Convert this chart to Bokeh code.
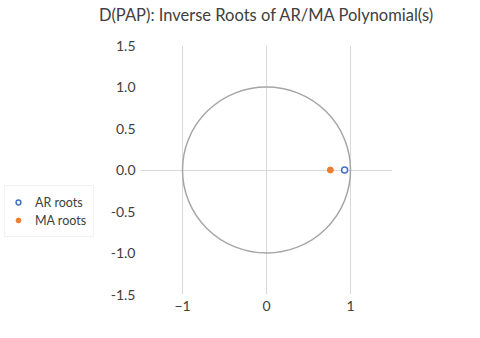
from bokeh.plotting import figure
from bokeh.layouts import row, column
from bokeh.models import FixedTicker, Legend, LegendItem, Range1d, CustomJSTickFormatter, Div
from bokeh.embed import file_html
from bokeh.resources import INLINE

title_text = "D(PAP): Inverse Roots of AR/MA Polynomial(s)"
ar_re = [0.93]
ar_im = [0.0]
ma_re = [0.76]
ma_im = [0.0]
series_names = ["AR roots", "MA roots"]
x_ticks = [-1, 0, 1]
y_ticks = [-1.5, -1.0, -0.5, 0.0, 0.5, 1.0, 1.5]

FONT = "Lato"
TXT = "#404040"
AR_COLOR = "#4472C4"
MA_COLOR = "#ED7D31"

title_div = Div(text=title_text, width=344, height=30,
                styles={"text-align": "center", "font-family": FONT, "font-size": "16.5px",
                        "color": TXT, "line-height": "30px", "margin": "0", "padding": "0",
                        "white-space": "nowrap"})

p = figure(frame_width=252, frame_height=249, output_backend="svg", toolbar_location=None,
           x_range=Range1d(-1.5, 1.5), y_range=Range1d(-1.5, 1.5),
           min_border_left=46, min_border_right=78, min_border_top=15, min_border_bottom=36,
           title=None)
p.outline_line_color = None

p.xaxis.ticker = FixedTicker(ticks=x_ticks)
p.yaxis.ticker = FixedTicker(ticks=y_ticks)
p.yaxis.formatter = CustomJSTickFormatter(code="return tick.toFixed(1);")
for ax in (p.xaxis, p.yaxis):
    ax.axis_line_color = None
    ax.major_tick_line_color = None
    ax.minor_tick_line_color = None
    ax.major_tick_out = 0
    ax.major_tick_in = 0
    ax.minor_tick_out = 0
    ax.minor_tick_in = 0
    ax.major_label_text_font = FONT
    ax.major_label_text_font_size = "14px"
    ax.major_label_text_color = TXT
p.xaxis.major_label_standoff = 6
p.yaxis.major_label_standoff = 5

p.xgrid.ticker = FixedTicker(ticks=x_ticks)
p.ygrid.ticker = FixedTicker(ticks=[0])
p.xgrid.grid_line_color = "#D9D9D9"
p.ygrid.grid_line_color = "#D9D9D9"

p.ellipse(x=0, y=0, width=2, height=2, fill_color=None, line_color="#A6A6A6", line_width=1.5)

p.scatter(ar_re, ar_im, marker="circle", size=6, fill_color="white",
          line_color=AR_COLOR, line_width=1.5)
p.scatter(ma_re, ma_im, marker="circle", size=6, fill_color=MA_COLOR,
          line_color=MA_COLOR, line_width=1)

# legend panel on the left (its own renderers sit outside its view, only the legend shows)
lf = figure(width=94, height=330, output_backend="svg", toolbar_location=None,
            x_range=Range1d(10, 11), y_range=Range1d(10, 11),
            min_border_left=0, min_border_right=0, min_border_top=0, min_border_bottom=0)
lf.axis.visible = False
lf.grid.visible = False
lf.outline_line_color = None
l_ar = lf.scatter(ar_re, ar_im, marker="circle", size=6, fill_color="white",
                  line_color=AR_COLOR, line_width=1.5)
l_ma = lf.scatter(ma_re, ma_im, marker="circle", size=6, fill_color=MA_COLOR,
                  line_color=MA_COLOR, line_width=1)
legend = Legend(items=[LegendItem(label=series_names[0], renderers=[l_ar]),
                       LegendItem(label=series_names[1], renderers=[l_ma])],
                location=(4, 93))
legend.label_text_font = FONT
legend.label_text_font_size = "12.5px"
legend.label_text_color = TXT
legend.border_line_color = "#E6E6E6"
legend.spacing = 0
legend.label_height = 18
legend.glyph_height = 18
legend.glyph_width = 12
legend.label_standoff = 11
legend.padding = 7
legend.margin = 0
lf.add_layout(legend, "center")

layout = row(lf, column(title_div, p))
open("out.html", "w").write(file_html(layout, INLINE))
